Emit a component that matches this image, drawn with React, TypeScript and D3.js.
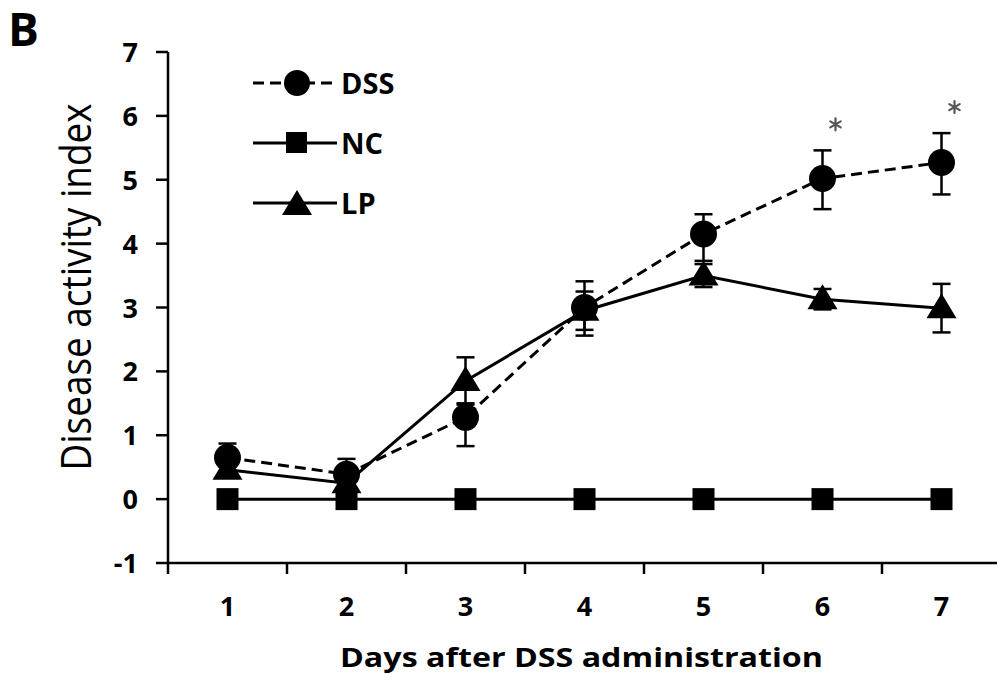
import React from "react";
import * as d3 from "d3";

const days = [1, 2, 3, 4, 5, 6, 7];
const dssMean = [0.65, 0.39, 1.28, 3.0, 4.15, 5.02, 5.27];
const dssErrUp = [0.22, 0.24, 0.22, 0.41, 0.31, 0.44, 0.46];
const dssErrDown = [0.22, 0.24, 0.45, 0.44, 0.42, 0.48, 0.5];
const ncMean = [0, 0, 0, 0, 0, 0, 0];
const lpMean = [0.46, 0.25, 1.85, 2.95, 3.5, 3.13, 2.99];
const lpErr = [0.12, 0.1, 0.37, 0.3, 0.18, 0.16, 0.38];
const yTicks = [-1, 0, 1, 2, 3, 4, 5, 6, 7];
const starDays = [6, 7];
const legendItems = ["DSS", "NC", "LP"];

const FONT = "'Open Sans', Lato, sans-serif";

export default function App() {
  const W = 997, H = 681;
  const x0 = 168, xEnd = 1001;
  const y = d3.scaleLinear().domain([-1, 7]).range([563, 52]);
  const xBand = d3.scaleBand<number>().domain(days).range([x0, xEnd]).paddingInner(0).paddingOuter(0);
  const cx = (d: number) => (xBand(d) as number) + xBand.bandwidth() / 2;
  const line = d3.line<[number, number]>().x(p => p[0]).y(p => p[1]);
  const pts = (arr: number[]) => days.map((d, i) => [cx(d), y(arr[i])] as [number, number]);

  const tri = (px: number, py: number) =>
    `M${px},${py - 15}L${px + 15},${py + 10}L${px - 15},${py + 10}Z`;

  const errBar = (px: number, top: number, bot: number, key: string) => (
    <g key={key} stroke="#000" strokeWidth={2.5}>
      <line x1={px} x2={px} y1={y(top)} y2={y(bot)} />
      <line x1={px - 9} x2={px + 9} y1={y(top)} y2={y(top)} />
      <line x1={px - 9} x2={px + 9} y1={y(bot)} y2={y(bot)} />
    </g>
  );

  const star = (sx: number, sy: number, key: string) => (
    <g key={key} stroke="#555" strokeWidth={2.2} strokeLinecap="round">
      {[90, 30, 150].map(a => {
        const r = 6, rad = (a * Math.PI) / 180;
        return (
          <line key={a} x1={sx - r * Math.cos(rad)} y1={sy - r * Math.sin(rad)} x2={sx + r * Math.cos(rad)} y2={sy + r * Math.sin(rad)} />
        );
      })}
    </g>
  );

  const xTickPos = [...days.map(d => xBand(d) as number), xEnd];

  return (
    <svg width={W} height={H} style={{ position: "absolute", left: 0, top: 0, background: "#fff" }}>
      <rect width={W} height={H} fill="#fff" />
      <text x={8} y={46} fontFamily={FONT} fontWeight="bold" fontSize={46}>B</text>

      {/* axes */}
      <g stroke="#000" strokeWidth={2.5}>
        <line x1={x0} x2={x0} y1={y(7)} y2={y(-1)} />
        <line x1={x0} x2={W} y1={y(-1)} y2={y(-1)} />
        {yTicks.map(t => (
          <line key={t} x1={x0 - 12} x2={x0} y1={y(t)} y2={y(t)} />
        ))}
        {xTickPos.map((p, i) => (
          <line key={i} x1={p} x2={p} y1={y(-1)} y2={y(-1) + 11} />
        ))}
      </g>
      {yTicks.map(t => (
        <text key={t} x={138} y={y(t) + 10} textAnchor="end" fontFamily={FONT} fontWeight="bold" fontSize={27}>{t}</text>
      ))}
      {days.map(d => (
        <text key={d} x={cx(d)} y={616} textAnchor="middle" fontFamily={FONT} fontWeight="bold" fontSize={27}>{d}</text>
      ))}
      <text x={340} y={667} textLength={483} lengthAdjust="spacingAndGlyphs" fontFamily={FONT} fontWeight="bold" fontSize={27}>Days after DSS administration</text>
      <text transform={`translate(91,${287}) rotate(-90)`} textAnchor="middle" textLength={367} lengthAdjust="spacingAndGlyphs" fontFamily={FONT} fontWeight={500} fontSize={42}>Disease activity index</text>

      {/* NC */}
      <path d={line(pts(ncMean)) as string} fill="none" stroke="#000" strokeWidth={3} />
      {pts(ncMean).map((p, i) => (
        <rect key={i} x={p[0] - 11} y={p[1] - 11} width={22} height={22} fill="#000" />
      ))}

      {/* LP */}
      {days.map((d, i) => errBar(cx(d), lpMean[i] + lpErr[i], lpMean[i] - lpErr[i], "lpe" + i))}
      <path d={line(pts(lpMean)) as string} fill="none" stroke="#000" strokeWidth={3} />
      {pts(lpMean).map((p, i) => (
        <path key={i} d={tri(p[0], p[1])} fill="#000" />
      ))}

      {/* DSS */}
      {days.map((d, i) => errBar(cx(d), dssMean[i] + dssErrUp[i], dssMean[i] - dssErrDown[i], "dsse" + i))}
      <path d={line(pts(dssMean)) as string} fill="none" stroke="#000" strokeWidth={3} strokeDasharray="11,6" />
      {pts(dssMean).map((p, i) => (
        <circle key={i} cx={p[0]} cy={p[1]} r={13.5} fill="#000" />
      ))}

      {starDays.map(d => {
        const i = days.indexOf(d);
        return star(cx(d) + 13, y(dssMean[i] + dssErrUp[i]) - 26, "s" + d);
      })}

      {/* legend */}
      {legendItems.map((name, i) => {
        const ly = 83 + i * 60;
        return (
          <g key={name}>
            <line x1={253} x2={337} y1={ly} y2={ly} stroke="#000" strokeWidth={3} strokeDasharray={name === "DSS" ? "11,6" : undefined} />
            {name === "DSS" && <circle cx={297} cy={ly} r={13} fill="#000" />}
            {name === "NC" && <rect x={286} y={ly - 11} width={21} height={21} fill="#000" />}
            {name === "LP" && <path d={tri(297, ly + 2)} fill="#000" />}
            <text x={341} y={ly + 11} fontFamily={FONT} fontWeight="bold" fontSize={29}>{name}</text>
          </g>
        );
      })}
    </svg>
  );
}
